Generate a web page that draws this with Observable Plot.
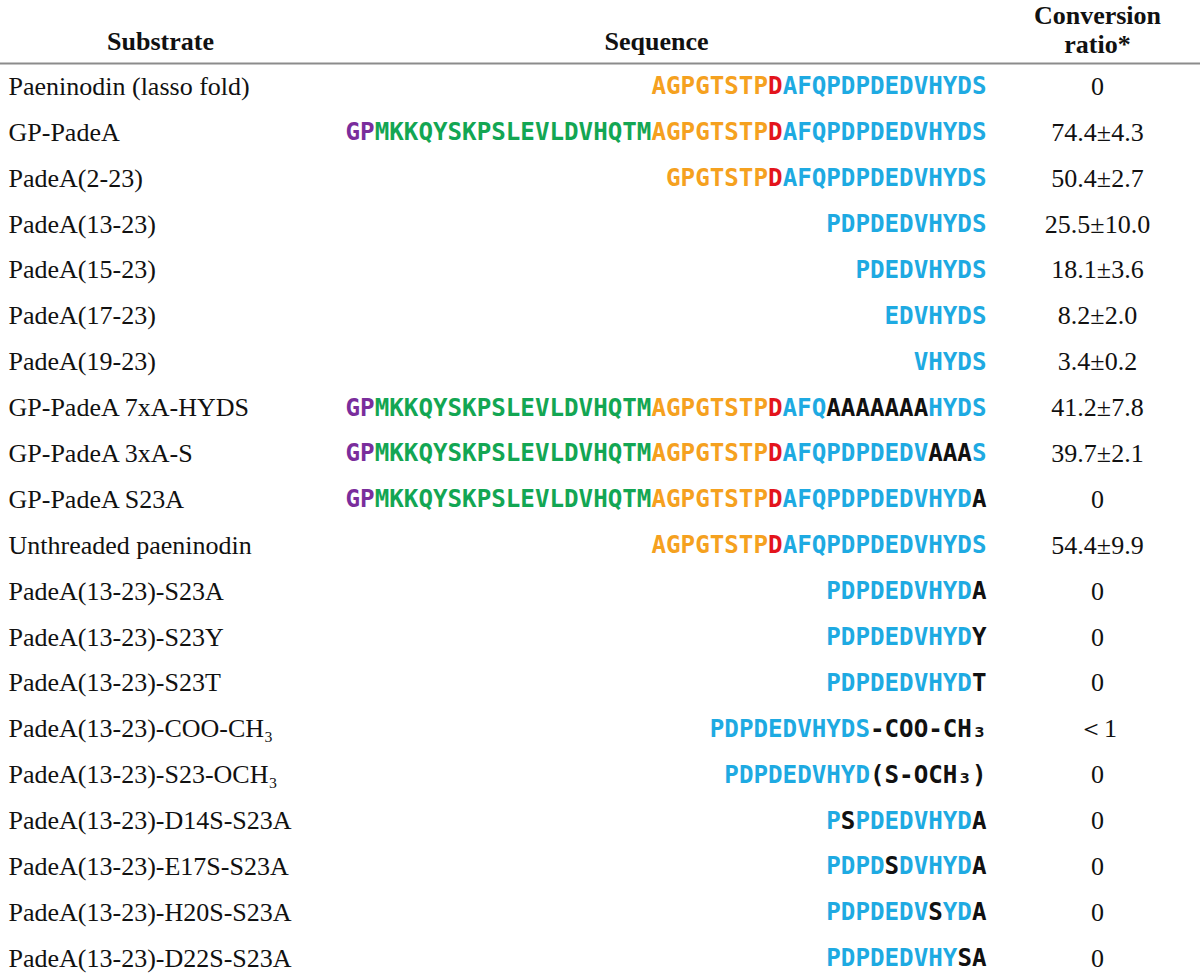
<!DOCTYPE html>
<html>
<head>
<meta charset="utf-8">
<script src="https://cdn.jsdelivr.net/npm/d3@7"></script>
<script src="https://cdn.jsdelivr.net/npm/@observablehq/plot@0.6"></script>
<style>
  html, body { margin: 0; padding: 0; background: #fff; }
  #chart svg { display: block; background: #fff; }
</style>
</head>
<body>
<div id="chart"></div>
<script>
// ---------- data ----------
const headers = ["Substrate", "Sequence", "Conversion\nratio*"];

const substrates = [
  "Paeninodin (lasso fold)",
  "GP-PadeA",
  "PadeA(2-23)",
  "PadeA(13-23)",
  "PadeA(15-23)",
  "PadeA(17-23)",
  "PadeA(19-23)",
  "GP-PadeA 7xA-HYDS",
  "GP-PadeA 3xA-S",
  "GP-PadeA S23A",
  "Unthreaded paeninodin",
  "PadeA(13-23)-S23A",
  "PadeA(13-23)-S23Y",
  "PadeA(13-23)-S23T",
  "PadeA(13-23)-COO-CH\u2083",
  "PadeA(13-23)-S23-OCH\u2083",
  "PadeA(13-23)-D14S-S23A",
  "PadeA(13-23)-E17S-S23A",
  "PadeA(13-23)-H20S-S23A",
  "PadeA(13-23)-D22S-S23A"
];

const conversionRatio = [
  "0", "74.4\u00b14.3", "50.4\u00b12.7", "25.5\u00b110.0", "18.1\u00b13.6",
  "8.2\u00b12.0", "3.4\u00b10.2", "41.2\u00b17.8", "39.7\u00b12.1", "0",
  "54.4\u00b19.9", "0", "0", "0", "\uff1c1", "0", "0", "0", "0", "0"
];

// sequence segments: [region, residues]
const sequenceSegments = [
  [["ring", "AGPGTSTP"], ["asp", "D"], ["tail", "AFQPDPDEDVHYDS"]],
  [["tag", "GP"], ["leader", "MKKQYSKPSLEVLDVHQTM"], ["ring", "AGPGTSTP"], ["asp", "D"], ["tail", "AFQPDPDEDVHYDS"]],
  [["ring", "GPGTSTP"], ["asp", "D"], ["tail", "AFQPDPDEDVHYDS"]],
  [["tail", "PDPDEDVHYDS"]],
  [["tail", "PDEDVHYDS"]],
  [["tail", "EDVHYDS"]],
  [["tail", "VHYDS"]],
  [["tag", "GP"], ["leader", "MKKQYSKPSLEVLDVHQTM"], ["ring", "AGPGTSTP"], ["asp", "D"], ["tail", "AFQ"], ["mut", "AAAAAAA"], ["tail", "HYDS"]],
  [["tag", "GP"], ["leader", "MKKQYSKPSLEVLDVHQTM"], ["ring", "AGPGTSTP"], ["asp", "D"], ["tail", "AFQPDPDEDV"], ["mut", "AAA"], ["tail", "S"]],
  [["tag", "GP"], ["leader", "MKKQYSKPSLEVLDVHQTM"], ["ring", "AGPGTSTP"], ["asp", "D"], ["tail", "AFQPDPDEDVHYD"], ["mut", "A"]],
  [["ring", "AGPGTSTP"], ["asp", "D"], ["tail", "AFQPDPDEDVHYDS"]],
  [["tail", "PDPDEDVHYD"], ["mut", "A"]],
  [["tail", "PDPDEDVHYD"], ["mut", "Y"]],
  [["tail", "PDPDEDVHYD"], ["mut", "T"]],
  [["tail", "PDPDEDVHYDS"], ["mut", "-COO-CH\u2083"]],
  [["tail", "PDPDEDVHYD"], ["mut", "(S-OCH\u2083)"]],
  [["tail", "P"], ["mut", "S"], ["tail", "PDEDVHYD"], ["mut", "A"]],
  [["tail", "PDPD"], ["mut", "S"], ["tail", "DVHYD"], ["mut", "A"]],
  [["tail", "PDPDEDV"], ["mut", "S"], ["tail", "YD"], ["mut", "A"]],
  [["tail", "PDPDEDVHY"], ["mut", "SA"]]
];

// ---------- styling / layout ----------
const regionColor = {
  tag: "#7a2d9c",
  leader: "#13a653",
  ring: "#f5a11f",
  asp: "#e3141c",
  tail: "#1eaae2",
  mut: "#111111"
};
const SERIF = "'Liberation Serif', 'Times New Roman', serif";
const MONO = "'DejaVu Sans Mono', monospace";
const SEQ_SIZE = 24.2;
const CHAR_W = SEQ_SIZE * 0.602;
const SEQ_RIGHT = 986;
const COL_SUB = 8, COL_SUB_HEAD = 160, COL_SEQ_HEAD = 656, COL_CONV = 1097;

// ---------- derived tables ----------
const rows = substrates.map((s, i) => ({row: i, substrate: s, conversion: conversionRatio[i]}));

const segs = [];
sequenceSegments.forEach((list, i) => {
  let after = 0;
  for (let k = list.length - 1; k >= 0; k--) {
    const [region, text] = list[k];
    segs.push({row: i, region, text, x: SEQ_RIGHT - after * CHAR_W});
    after += Array.from(text).length;
  }
});

const headerRows = [
  {label: headers[0], x: COL_SUB_HEAD, y: -1},
  {label: headers[1], x: COL_SEQ_HEAD, y: -1},
  {label: headers[2], x: COL_CONV, y: -1.25}
];

const chart = Plot.plot({
  width: 1200,
  height: 977,
  margin: 0,
  x: {type: "linear", domain: [0, 1200], range: [0, 1200], axis: null},
  y: {type: "linear", domain: [0, substrates.length - 1], range: [86, 958], axis: null},
  color: {type: "ordinal", domain: Object.keys(regionColor), range: Object.values(regionColor)},
  marks: [
    Plot.ruleY([-0.5], {stroke: "#8c8c8c", strokeWidth: 2}),
    Plot.text(headerRows, {
      x: "x", y: "y", text: "label",
      fontFamily: SERIF, fontSize: 26, fontWeight: "bold",
      fill: "#111", lineHeight: 1.12, textAnchor: "middle"
    }),
    Plot.text(rows, {
      x: () => COL_SUB, y: "row", text: "substrate",
      textAnchor: "start", fontFamily: SERIF, fontSize: 26, fill: "#111"
    }),
    Plot.text(segs, {
      x: "x", y: "row", text: "text", fill: "region",
      textAnchor: "end", fontFamily: MONO, fontSize: SEQ_SIZE, fontWeight: "bold"
    }),
    Plot.text(rows, {
      x: () => COL_CONV, y: "row", text: "conversion",
      textAnchor: "middle", fontFamily: SERIF, fontSize: 26, fill: "#111"
    })
  ]
});

document.getElementById("chart").append(chart);
</script>
</body>
</html>
